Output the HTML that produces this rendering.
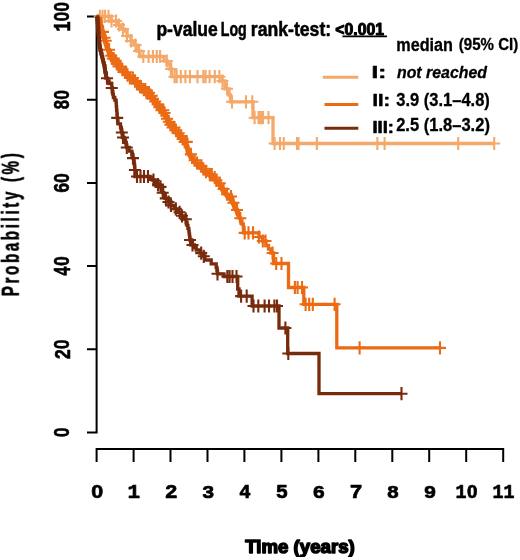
<!DOCTYPE html>
<html><head><meta charset="utf-8"><style>
html,body{margin:0;padding:0;background:#fff;width:520px;height:560px;overflow:hidden}
svg{display:block}
</style></head><body>
<svg width="520" height="560" viewBox="0 0 520 560">
<defs><filter id="bl" x="0" y="0" width="1" height="1"><feGaussianBlur stdDeviation="0.45"/></filter></defs>
<rect width="520" height="560" fill="#fff"/>
<g filter="url(#bl)">
<path d="M96.6 15.5V433.4M87 432.4H96.6M87 349.2H96.6M87 266.0H96.6M87 182.9H96.6M87 99.7H96.6M87 16.5H96.6" fill="none" stroke="#000" stroke-width="2" stroke-linecap="butt"/>
<path d="M95.6 448.9H504.2M96.6 448.9V462M133.6 448.9V462M170.5 448.9V462M207.5 448.9V462M244.4 448.9V462M281.4 448.9V462M318.4 448.9V462M355.3 448.9V462M392.3 448.9V462M429.2 448.9V462M466.2 448.9V462M503.2 448.9V462" fill="none" stroke="#000" stroke-width="2"/>
<text transform="matrix(0 -0.8854 1.0775 0 69.43 437.36)" font-family="'Liberation Sans', sans-serif" font-weight="bold" font-style="normal" font-size="20" fill="#000" stroke="#000" stroke-width="0.509" stroke-linejoin="round">0</text>
<text transform="matrix(0 -0.8854 1.1418 0 69.65 359.43)" font-family="'Liberation Mono', monospace" font-weight="bold" font-style="normal" font-size="20" fill="#000" stroke="#000" stroke-width="0.493" stroke-linejoin="round">2</text>
<text transform="matrix(0 -0.8854 1.0775 0 69.43 349.28)" font-family="'Liberation Sans', sans-serif" font-weight="bold" font-style="normal" font-size="20" fill="#000" stroke="#000" stroke-width="0.509" stroke-linejoin="round">0</text>
<text transform="matrix(0 -0.7870 1.1591 0 69.65 275.66)" font-family="'Liberation Mono', monospace" font-weight="bold" font-style="normal" font-size="20" fill="#000" stroke="#000" stroke-width="0.514" stroke-linejoin="round">4</text>
<text transform="matrix(0 -0.8854 1.0775 0 69.43 266.10)" font-family="'Liberation Sans', sans-serif" font-weight="bold" font-style="normal" font-size="20" fill="#000" stroke="#000" stroke-width="0.509" stroke-linejoin="round">0</text>
<text transform="matrix(0 -0.8673 1.1250 0 69.43 193.05)" font-family="'Liberation Mono', monospace" font-weight="bold" font-style="normal" font-size="20" fill="#000" stroke="#000" stroke-width="0.502" stroke-linejoin="round">6</text>
<text transform="matrix(0 -0.8854 1.0775 0 69.43 182.92)" font-family="'Liberation Sans', sans-serif" font-weight="bold" font-style="normal" font-size="20" fill="#000" stroke="#000" stroke-width="0.509" stroke-linejoin="round">0</text>
<text transform="matrix(0 -0.8500 1.1250 0 69.43 109.68)" font-family="'Liberation Mono', monospace" font-weight="bold" font-style="normal" font-size="20" fill="#000" stroke="#000" stroke-width="0.506" stroke-linejoin="round">8</text>
<text transform="matrix(0 -0.8854 1.0775 0 69.43 99.74)" font-family="'Liberation Sans', sans-serif" font-weight="bold" font-style="normal" font-size="20" fill="#000" stroke="#000" stroke-width="0.509" stroke-linejoin="round">0</text>
<text transform="matrix(0 -0.8673 1.1591 0 69.65 31.76)" font-family="'Liberation Mono', monospace" font-weight="bold" font-style="normal" font-size="20" fill="#000" stroke="#000" stroke-width="0.493" stroke-linejoin="round">1</text>
<text transform="matrix(0 -0.8854 1.0775 0 69.43 21.46)" font-family="'Liberation Sans', sans-serif" font-weight="bold" font-style="normal" font-size="20" fill="#000" stroke="#000" stroke-width="0.509" stroke-linejoin="round">0</text>
<text transform="matrix(0 -0.8854 1.0775 0 69.43 11.66)" font-family="'Liberation Sans', sans-serif" font-weight="bold" font-style="normal" font-size="20" fill="#000" stroke="#000" stroke-width="0.509" stroke-linejoin="round">0</text>
<text transform="matrix(1.0729 0 0 0.9155 91.19 497.97)" font-family="'Liberation Sans', sans-serif" font-weight="bold" font-style="normal" font-size="20" fill="#000" stroke="#000" stroke-width="0.704" stroke-linejoin="round">0</text>
<text transform="matrix(1.0510 0 0 0.9848 127.54 498.15)" font-family="'Liberation Mono', monospace" font-weight="bold" font-style="normal" font-size="20" fill="#000" stroke="#000" stroke-width="0.688" stroke-linejoin="round">1</text>
<text transform="matrix(1.0729 0 0 0.9701 164.68 498.15)" font-family="'Liberation Mono', monospace" font-weight="bold" font-style="normal" font-size="20" fill="#000" stroke="#000" stroke-width="0.685" stroke-linejoin="round">2</text>
<text transform="matrix(1.0300 0 0 0.9559 201.90 497.96)" font-family="'Liberation Mono', monospace" font-weight="bold" font-style="normal" font-size="20" fill="#000" stroke="#000" stroke-width="0.705" stroke-linejoin="round">3</text>
<text transform="matrix(0.9537 0 0 0.9848 239.32 498.15)" font-family="'Liberation Mono', monospace" font-weight="bold" font-style="normal" font-size="20" fill="#000" stroke="#000" stroke-width="0.722" stroke-linejoin="round">4</text>
<text transform="matrix(1.0300 0 0 0.9701 275.82 497.96)" font-family="'Liberation Mono', monospace" font-weight="bold" font-style="normal" font-size="20" fill="#000" stroke="#000" stroke-width="0.700" stroke-linejoin="round">5</text>
<text transform="matrix(1.0510 0 0 0.9559 312.55 497.96)" font-family="'Liberation Mono', monospace" font-weight="bold" font-style="normal" font-size="20" fill="#000" stroke="#000" stroke-width="0.698" stroke-linejoin="round">6</text>
<text transform="matrix(1.0957 0 0 0.9848 349.46 498.15)" font-family="'Liberation Mono', monospace" font-weight="bold" font-style="normal" font-size="20" fill="#000" stroke="#000" stroke-width="0.673" stroke-linejoin="round">7</text>
<text transform="matrix(1.0300 0 0 0.9559 386.70 497.96)" font-family="'Liberation Mono', monospace" font-weight="bold" font-style="normal" font-size="20" fill="#000" stroke="#000" stroke-width="0.705" stroke-linejoin="round">8</text>
<text transform="matrix(1.0510 0 0 0.9559 423.64 497.96)" font-family="'Liberation Mono', monospace" font-weight="bold" font-style="normal" font-size="20" fill="#000" stroke="#000" stroke-width="0.698" stroke-linejoin="round">9</text>
<text transform="matrix(0.9184 0 0 0.9848 455.46 498.15)" font-family="'Liberation Mono', monospace" font-weight="bold" font-style="normal" font-size="20" fill="#000" stroke="#000" stroke-width="0.736" stroke-linejoin="round">1</text>
<text transform="matrix(0.9375 0 0 0.9155 467.10 497.97)" font-family="'Liberation Sans', sans-serif" font-weight="bold" font-style="normal" font-size="20" fill="#000" stroke="#000" stroke-width="0.756" stroke-linejoin="round">0</text>
<text transform="matrix(0.9184 0 0 0.9848 492.42 498.15)" font-family="'Liberation Mono', monospace" font-weight="bold" font-style="normal" font-size="20" fill="#000" stroke="#000" stroke-width="0.736" stroke-linejoin="round">1</text>
<text transform="matrix(0.9184 0 0 0.9848 503.52 498.15)" font-family="'Liberation Mono', monospace" font-weight="bold" font-style="normal" font-size="20" fill="#000" stroke="#000" stroke-width="0.736" stroke-linejoin="round">1</text>
<text transform="matrix(0.9337 0 0 0.9140 245.16 552.81)" font-family="'Liberation Sans', sans-serif" font-weight="bold" font-style="normal" font-size="20" fill="#000" stroke="#000" stroke-width="1.624" stroke-linejoin="round">Time (years)</text>
<text transform="matrix(0 -0.7567 1.2258 0 19.10 296.21)" font-family="'Liberation Sans', sans-serif" font-weight="bold" font-style="normal" font-size="20" fill="#000" stroke="#000" stroke-width="0.504" stroke-linejoin="round" letter-spacing="3.5">Probability (%)</text>
<text transform="matrix(0.8761 0 0 0.9892 156.42 35.80)" font-family="'Liberation Sans', sans-serif" font-weight="bold" font-style="normal" font-size="20" fill="#000" stroke="#000" stroke-width="0.536" stroke-linejoin="round">p-value</text>
<text transform="matrix(0.7101 0 0 1.0222 220.76 35.66)" font-family="'Liberation Sans', sans-serif" font-weight="bold" font-style="normal" font-size="20" fill="#000" stroke="#000" stroke-width="0.577" stroke-linejoin="round">Log</text>
<text transform="matrix(0.8815 0 0 1.0000 250.82 35.95)" font-family="'Liberation Sans', sans-serif" font-weight="bold" font-style="normal" font-size="20" fill="#000" stroke="#000" stroke-width="0.531" stroke-linejoin="round">rank-test:</text>
<text transform="matrix(0.7897 0 0 0.8028 335.37 34.74)" font-family="'Liberation Sans', sans-serif" font-weight="bold" font-style="normal" font-size="20" fill="#000" stroke="#000" stroke-width="1.256" stroke-linejoin="round">&lt;0.001</text>
<path d="M342.4 36.4H387" stroke="#000" stroke-width="1.7"/>
<text transform="matrix(0.8101 0 0 0.8973 396.32 50.87)" font-family="'Liberation Sans', sans-serif" font-weight="bold" font-style="normal" font-size="20" fill="#000" stroke="#000" stroke-width="0.351" stroke-linejoin="round">median</text>
<text transform="matrix(0.7539 0 0 0.8172 458.80 50.22)" font-family="'Liberation Sans', sans-serif" font-weight="bold" font-style="normal" font-size="20" fill="#000" stroke="#000" stroke-width="0.382" stroke-linejoin="round">(95% CI)</text>
<path d="M322.8 77.3H358.3" stroke="#F4A96A" stroke-width="3"/>
<path d="M324.5 104.6H358.3" stroke="#EB6B12" stroke-width="3"/>
<path d="M324.5 128.3H358.3" stroke="#782C0A" stroke-width="3"/>
<text transform="matrix(1.2111 0 0 0.7971 371.50 78.20)" font-family="'Liberation Sans', sans-serif" font-weight="bold" font-style="normal" font-size="20" fill="#000" stroke="#000" stroke-width="0.598" stroke-linejoin="round">I:</text>
<text transform="matrix(0.7945 0 0 0.8322 396.93 78.43)" font-family="'Liberation Sans', sans-serif" font-weight="bold" font-style="italic" font-size="20" fill="#000" stroke="#000" stroke-width="0.369" stroke-linejoin="round">not reached</text>
<text transform="matrix(0.9863 0 0 0.8551 372.42 106.10)" font-family="'Liberation Sans', sans-serif" font-weight="bold" font-style="normal" font-size="20" fill="#000" stroke="#000" stroke-width="0.652" stroke-linejoin="round">II:</text>
<text transform="matrix(0.8250 0 0 0.8925 396.32 105.60)" font-family="'Liberation Sans', sans-serif" font-weight="bold" font-style="normal" font-size="20" fill="#000" stroke="#000" stroke-width="0.349" stroke-linejoin="round">3.9 (3.1–4.8)</text>
<text transform="matrix(0.9200 0 0 0.7971 372.51 132.70)" font-family="'Liberation Sans', sans-serif" font-weight="bold" font-style="normal" font-size="20" fill="#000" stroke="#000" stroke-width="0.699" stroke-linejoin="round">III:</text>
<text transform="matrix(0.8265 0 0 0.8925 396.15 131.20)" font-family="'Liberation Sans', sans-serif" font-weight="bold" font-style="normal" font-size="20" fill="#000" stroke="#000" stroke-width="0.349" stroke-linejoin="round">2.5 (1.8–3.2)</text>
<path d="M96.6 16.3H111.0V21.0H118.0V25.0H121.0V29.0H124.0V31.0H127.0V36.0H131.0V41.0H134.0V45.0H137.0V51.0H140.0V56.5H164.0V61.0H167.0V64.0H170.0V69.0H171.5V76.7H222.0V81.0H225.0V88.8H229.0V95.0H230.5V101.8H253.0V117.7H273.0V143.5H494.2" fill="none" stroke="#F4A96A" stroke-width="3.3" stroke-linejoin="miter"/>
<path d="M99.8 9.7V22.9M93.8 16.3H105.8M102.5 9.7V22.9M96.5 16.3H108.5M105.0 9.7V22.9M99.0 16.3H111.0M108.5 9.7V22.9M102.5 16.3H114.5M111.5 14.4V27.6M105.5 21.0H117.5M116.0 14.4V27.6M110.0 21.0H122.0M119.0 18.4V31.6M113.0 25.0H125.0M123.0 22.4V35.6M117.0 29.0H129.0M127.0 29.4V42.6M121.0 36.0H133.0M131.0 34.4V47.6M125.0 41.0H137.0M135.5 38.4V51.6M129.5 45.0H141.5M139.0 44.4V57.6M133.0 51.0H145.0M143.3 49.9V63.1M137.3 56.5H149.3M148.6 49.9V63.1M142.6 56.5H154.6M152.9 49.9V63.1M146.9 56.5H158.9M156.8 49.9V63.1M150.8 56.5H162.8M160.1 49.9V63.1M154.1 56.5H166.1M166.8 54.4V67.6M160.8 61.0H172.8M171.2 62.4V75.6M165.2 69.0H177.2M174.5 70.1V83.3M168.5 76.7H180.5M176.7 70.1V83.3M170.7 76.7H182.7M180.8 70.1V83.3M174.8 76.7H186.8M185.4 70.1V83.3M179.4 76.7H191.4M190.0 70.1V83.3M184.0 76.7H196.0M197.5 70.1V83.3M191.5 76.7H203.5M203.3 70.1V83.3M197.3 76.7H209.3M205.6 70.1V83.3M199.6 76.7H211.6M209.6 70.1V83.3M203.6 76.7H215.6M214.8 70.1V83.3M208.8 76.7H220.8M219.4 70.1V83.3M213.4 76.7H225.4M222.5 74.4V87.6M216.5 81.0H228.5M227.0 82.2V95.4M221.0 88.8H233.0M232.0 95.2V108.4M226.0 101.8H238.0M246.0 95.2V108.4M240.0 101.8H252.0M252.3 95.2V108.4M246.3 101.8H258.3M254.6 111.1V124.3M248.6 117.7H260.6M258.5 111.1V124.3M252.5 117.7H264.5M260.0 111.1V124.3M254.0 117.7H266.0M261.5 111.1V124.3M255.5 117.7H267.5M263.0 111.1V124.3M257.0 117.7H269.0M268.5 111.1V124.3M262.5 117.7H274.5M274.6 136.9V150.1M268.6 143.5H280.6M280.0 136.9V150.1M274.0 143.5H286.0M283.8 136.9V150.1M277.8 143.5H289.8M297.0 136.9V150.1M291.0 143.5H303.0M298.5 136.9V150.1M292.5 143.5H304.5M316.9 136.9V150.1M310.9 143.5H322.9M377.4 136.9V150.1M371.4 143.5H383.4M384.6 136.9V150.1M378.6 143.5H390.6M458.2 136.9V150.1M452.2 143.5H464.2M494.2 136.9V150.1M488.2 143.5H500.2" fill="none" stroke="#F4A96A" stroke-width="2.1"/>
<polyline points="99.5,17.0 100.0,22.9 102.5,31.9 105.0,40.8 108.0,49.7 111.5,58.6 113.9,60.8 118.5,66.5 124.2,72.3 129.5,78.0 136.9,83.8 142.7,89.6 149.8,95.8 153.9,101.5 158.0,107.3 163.6,113.0 167.0,118.8 169.4,124.6 175.0,130.4 179.0,136.1 184.3,141.9 187.0,146.0 188.0,151.5 191.0,157.3 195.5,163.0 202.4,168.8 208.8,174.6 215.8,180.4 220.4,186.1 223.8,191.9 228.0,196.5 231.6,200.5 234.0,205.0 236.5,210.0 238.5,215.5" fill="none" stroke="#EB6B12" stroke-width="5" stroke-linejoin="round" stroke-linecap="butt"/>
<path d="M96.6 16.3H98.3V19.6H100.0V22.9H100.8V25.9H101.7V28.9H102.5V31.9H103.3V34.9H104.2V37.8H105.0V40.8H106.0V43.8H107.0V46.7H108.0V49.7H109.2V52.7H110.3V55.6H111.5V58.6H113.9V60.8H116.2V63.6H118.5V66.5H121.3V69.4H124.2V72.3H126.8V75.2H129.5V78.0H133.2V80.9H136.9V83.8H139.8V86.7H142.7V89.6H146.2V92.7H149.8V95.8H151.9V98.7H153.9V101.5H155.9V104.4H158.0V107.3H160.8V110.2H163.6V113.0H165.3V115.9H167.0V118.8H168.2V121.7H169.4V124.6H172.2V127.5H175.0V130.4H177.0V133.2H179.0V136.1H181.7V139.0H184.3V141.9H187.0V146.0H187.5V148.8H188.0V151.5H189.5V154.4H191.0V157.3H193.2V160.2H195.5V163.0H198.9V165.9H202.4V168.8H205.6V171.7H208.8V174.6H212.3V177.5H215.8V180.4H218.1V183.2H220.4V186.1H222.1V189.0H223.8V191.9H225.9V194.2H228.0V196.5H231.6V200.5H232.8V202.8H234.0V205.0H235.2V207.5H236.5V210.0H237.5V212.8H238.5V215.5H239.5V218.2H240.5V221.0H241.9V224.0H243.3V227.0H243.5V232.9H259.0V237.0H262.5V241.0H266.0V245.4H268.5V249.0H271.0V253.0H273.5V263.5H288.5V287.5H303.8V304.3H336.8V347.9H440.0" fill="none" stroke="#EB6B12" stroke-width="3.3" stroke-linejoin="miter"/>
<path d="M103.0 25.3V38.5M97.0 31.9H109.0M104.6 31.2V44.4M98.6 37.8H110.6M105.7 34.2V47.4M99.7 40.8H111.7M108.1 43.1V56.3M102.1 49.7H114.1M109.1 43.1V56.3M103.1 49.7H115.1M111.2 49.0V62.2M105.2 55.6H117.2M112.8 52.0V65.2M106.8 58.6H118.8M113.8 52.0V65.2M107.8 58.6H119.8M115.8 54.2V67.4M109.8 60.8H121.8M116.7 57.0V70.2M110.7 63.6H122.7M118.5 59.9V73.1M112.5 66.5H124.5M119.5 59.9V73.1M113.5 66.5H125.5M120.5 59.9V73.1M114.5 66.5H126.5M122.3 62.8V76.0M116.3 69.4H128.3M125.1 65.7V78.9M119.1 72.3H131.1M126.2 65.7V78.9M120.2 72.3H132.2M127.5 68.6V81.8M121.5 75.2H133.5M129.9 71.4V84.6M123.9 78.0H135.9M132.9 71.4V84.6M126.9 78.0H138.9M135.1 74.3V87.5M129.1 80.9H141.1M136.9 77.2V90.4M130.9 83.8H142.9M140.0 80.1V93.3M134.0 86.7H146.0M140.9 80.1V93.3M134.9 86.7H146.9M143.8 83.0V96.2M137.8 89.6H149.8M145.3 83.0V96.2M139.3 89.6H151.3M146.4 86.1V99.3M140.4 92.7H152.4M147.5 86.1V99.3M141.5 92.7H153.5M149.0 86.1V99.3M143.0 92.7H155.0M151.8 89.2V102.4M145.8 95.8H157.8M153.0 92.1V105.2M147.0 98.7H159.0M155.2 94.9V108.1M149.2 101.5H161.2M157.6 97.8V111.0M151.6 104.4H163.6M159.3 100.7V113.9M153.3 107.3H165.3M161.4 103.6V116.8M155.4 110.2H167.4M162.3 103.6V116.8M156.3 110.2H168.3M163.3 103.6V116.8M157.3 110.2H169.3M164.6 106.4V119.6M158.6 113.0H170.6M167.0 112.2V125.4M161.0 118.8H173.0M168.8 115.1V128.3M162.8 121.7H174.8M170.4 118.0V131.2M164.4 124.6H176.4M172.6 120.9V134.1M166.6 127.5H178.6M174.5 120.9V134.1M168.5 127.5H180.5M176.0 123.8V137.0M170.0 130.4H182.0M178.7 126.7V139.8M172.7 133.2H184.7M181.2 129.5V142.7M175.2 136.1H187.2M182.6 132.4V145.6M176.6 139.0H188.6M184.7 135.3V148.5M178.7 141.9H190.7M186.8 135.3V148.5M180.8 141.9H192.8M190.9 147.8V161.0M184.9 154.4H196.9M194.6 153.6V166.8M188.6 160.2H200.6M197.0 156.4V169.6M191.0 163.0H203.0M201.4 159.3V172.5M195.4 165.9H207.4M203.3 162.2V175.4M197.3 168.8H209.3M206.0 165.1V178.3M200.0 171.7H212.0M209.8 168.0V181.2M203.8 174.6H215.8M211.8 168.0V181.2M205.8 174.6H217.8M214.7 170.9V184.1M208.7 177.5H220.7M216.3 173.8V187.0M210.3 180.4H222.3M219.8 176.7V189.8M213.8 183.2H225.8M223.6 182.4V195.6M217.6 189.0H229.6M226.9 187.6V200.8M220.9 194.2H232.9M231.0 189.9V203.1M225.0 196.5H237.0M233.4 196.2V209.3M227.4 202.8H239.4M237.0 203.4V216.6M231.0 210.0H243.0M240.3 211.7V224.8M234.3 218.2H246.3M244.7 226.3V239.5M238.7 232.9H250.7M248.5 226.3V239.5M242.5 232.9H254.5M253.0 226.3V239.5M247.0 232.9H259.0M259.0 230.4V243.6M253.0 237.0H265.0M262.8 234.4V247.6M256.8 241.0H268.8M265.5 234.4V247.6M259.5 241.0H271.5M272.6 246.4V259.6M266.6 253.0H278.6M276.2 256.9V270.1M270.2 263.5H282.2M281.5 256.9V270.1M275.5 263.5H287.5M294.9 280.9V294.1M288.9 287.5H300.9M297.6 280.9V294.1M291.6 287.5H303.6M302.0 280.9V294.1M296.0 287.5H308.0M305.6 297.7V310.9M299.6 304.3H311.6M309.2 297.7V310.9M303.2 304.3H315.2M312.8 297.7V310.9M306.8 304.3H318.8M334.6 297.7V310.9M328.6 304.3H340.6M359.6 341.3V354.5M353.6 347.9H365.6M440.0 341.3V354.5M434.0 347.9H446.0" fill="none" stroke="#EB6B12" stroke-width="2.1"/>
<polyline points="97.6,16.5 98.2,25.0 98.6,33.0 99.2,41.0 100.3,50.0 102.5,58.6 104.4,66.0 105.5,74.0" fill="none" stroke="#782C0A" stroke-width="4" stroke-linejoin="round"/>
<path d="M96.6 16.3H96.9V19.4H97.2V22.6H97.5V25.7H97.8V28.7H98.1V31.8H98.4V34.8H98.6V37.9H98.9V40.9H99.2V44.0H99.5V47.0H100.3V50.2H101.1V53.5H101.9V56.8H102.7V60.0H103.4V62.9H104.2V65.7H104.9V68.6H105.2V71.8H105.6V75.0H105.9V78.2H107.5V80.9H109.1V83.6H111.8V88.0H112.4V91.6H112.9V94.5H113.4V97.5H114.8V100.2H116.1V102.9H116.3V106.7H116.6V110.4H116.9V114.2H117.2V117.9H117.6V120.8H118.0V123.8H120.5V127.5H121.1V130.0H121.8V132.5H122.4V135.0H123.0V137.5H124.2V140.0H125.5V142.5H126.1V145.0H126.8V147.5H129.2V151.2H131.8V155.0H133.0V158.1H133.6V160.9H134.2V163.8H134.6V166.9H134.9V170.0H134.9V173.2H135.0V176.5H150.0V178.0H152.3V180.0H155.2V182.3H158.0V184.6H159.8V186.9H161.5V189.2H162.7V192.7H163.8V195.6H165.0V198.4H168.5V202.0H171.0V205.4H174.2V208.8H177.7V212.3H181.1V215.8H184.6V219.2H186.2V222.5H187.1V225.4H187.9V228.3H188.8V231.2H189.2V234.2H189.6V237.1H190.0V240.0H191.2V242.5H192.5V245.0H194.4V247.5H196.2V250.0H200.0V253.1H203.8V256.2H205.0V260.0H211.2V263.8H216.2V267.5H216.9V270.6H217.5V273.8H223.8V274.5H224.0V276.5H237.7V289.0H239.0V296.1H252.1V306.0H279.0V328.0H287.7V353.5H319.0V393.7H401.5" fill="none" stroke="#782C0A" stroke-width="3.3" stroke-linejoin="miter"/>
<path d="M107.0 71.6V84.8M101.0 78.2H113.0M111.8 81.4V94.6M105.8 88.0H117.8M117.2 111.3V124.5M111.2 117.9H123.2M121.8 125.9V139.1M115.8 132.5H127.8M123.0 130.9V144.1M117.0 137.5H129.0M126.8 140.9V154.1M120.8 147.5H132.8M133.0 151.5V164.7M127.0 158.1H139.0M134.9 163.4V176.6M128.9 170.0H140.9M137.0 169.9V183.1M131.0 176.5H143.0M140.5 169.9V183.1M134.5 176.5H146.5M144.0 169.9V183.1M138.0 176.5H150.0M148.0 169.9V183.1M142.0 176.5H154.0M153.5 173.4V186.6M147.5 180.0H159.5M158.0 178.0V191.2M152.0 184.6H164.0M160.5 180.3V193.5M154.5 186.9H166.5M162.7 186.1V199.3M156.7 192.7H168.7M165.8 191.8V205.0M159.8 198.4H171.8M168.5 195.4V208.6M162.5 202.0H174.5M171.0 198.8V212.0M165.0 205.4H177.0M175.8 202.2V215.4M169.8 208.8H181.8M179.6 205.7V218.9M173.6 212.3H185.6M182.0 209.2V222.4M176.0 215.8H188.0M185.8 212.6V225.8M179.8 219.2H191.8M190.0 233.4V246.6M184.0 240.0H196.0M192.5 238.4V251.6M186.5 245.0H198.5M201.2 246.5V259.7M195.2 253.1H207.2M203.8 249.7V262.9M197.8 256.2H209.8M217.5 267.1V280.4M211.5 273.8H223.5M227.3 269.9V283.1M221.3 276.5H233.3M229.6 269.9V283.1M223.6 276.5H235.6M232.5 269.9V283.1M226.5 276.5H238.5M236.5 269.9V283.1M230.5 276.5H242.5M241.1 289.5V302.7M235.1 296.1H247.1M246.7 289.5V302.7M240.7 296.1H252.7M253.5 299.4V312.6M247.5 306.0H259.5M258.3 299.4V312.6M252.3 306.0H264.3M264.6 299.4V312.6M258.6 306.0H270.6M269.0 299.4V312.6M263.0 306.0H275.0M274.4 299.4V312.6M268.4 306.0H280.4M277.0 299.4V312.6M271.0 306.0H283.0M285.4 321.4V334.6M279.4 328.0H291.4M288.3 346.9V360.1M282.3 353.5H294.3M401.5 387.1V400.3M395.5 393.7H407.5" fill="none" stroke="#782C0A" stroke-width="2.1"/>
</g>
</svg>
</body></html>
